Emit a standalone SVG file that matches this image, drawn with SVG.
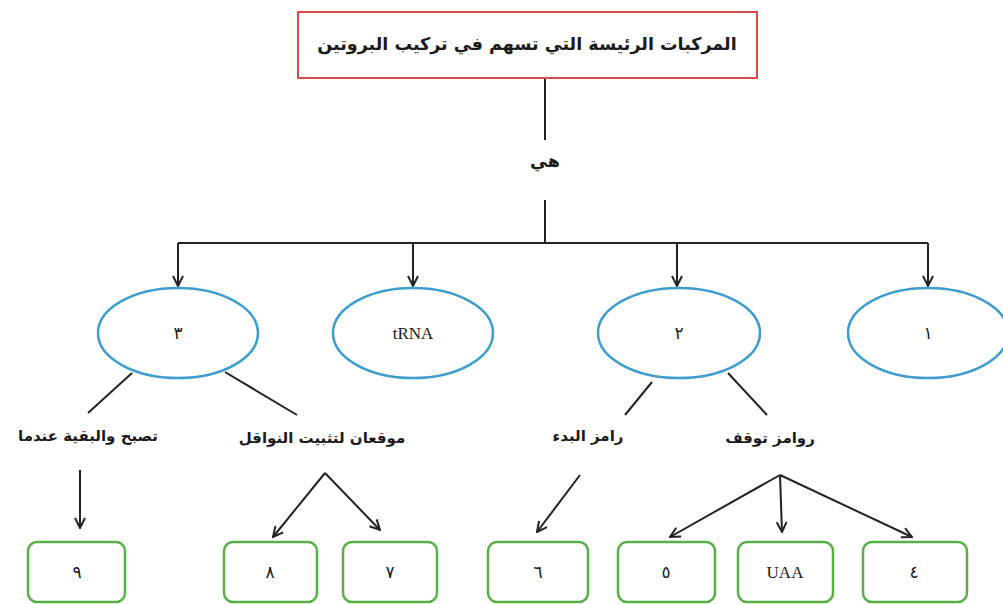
<svg xmlns="http://www.w3.org/2000/svg" width="1003" height="604" viewBox="0 0 1003 604">
  <defs>
    <marker id="arr" viewBox="0 0 12 12" refX="11" refY="6" markerWidth="12" markerHeight="12" markerUnits="userSpaceOnUse" orient="auto">
      <path d="M1,1 L11,6 L1,11" fill="none" stroke="#222" stroke-width="2" stroke-linejoin="miter"/>
    </marker>
    <style>
      .bg { fill: #ffffff; }
      .title { fill: #fff; stroke: #dc4a50; stroke-width: 2; }
      .oval { fill: #fff; stroke: #3e9dcc; stroke-width: 2.5; }
      .box { fill: #fff; stroke: #5aae48; stroke-width: 2.5; }
      .ln { fill: none; stroke: #222; stroke-width: 2; }
      .ar { fill: none; stroke: #222; stroke-width: 2; marker-end: url(#arr); }
      .ar-t { font-family: "DejaVu Sans", sans-serif; font-size: 15px; font-weight: bold; fill: #1a1a1a; text-anchor: middle; }
      .ar-big { font-size: 17.5px; }
      .num { font-family: "DejaVu Sans", sans-serif; font-size: 17px; fill: #1a1a1a; text-anchor: middle; }
      .lat { font-family: "Liberation Serif", serif; font-size: 17px; fill: #1a1a1a; text-anchor: middle; }
    </style>
  </defs>
  <rect class="bg" x="0" y="0" width="1003" height="604"/>

  <!-- connectors -->
  <g id="connectors">
    <line class="ln" x1="545" y1="79" x2="545" y2="140"/>
    <line class="ln" x1="545" y1="200" x2="545" y2="243"/>
    <line class="ln" x1="178" y1="243" x2="928" y2="243"/>
    <line class="ar" x1="178" y1="243" x2="178" y2="286"/>
    <line class="ar" x1="413" y1="243" x2="413" y2="286"/>
    <line class="ar" x1="677" y1="243" x2="677" y2="286"/>
    <line class="ar" x1="928" y1="243" x2="928" y2="286"/>

    <line class="ln" x1="132" y1="373" x2="88" y2="413"/>
    <line class="ln" x1="225" y1="372" x2="297" y2="415"/>
    <line class="ln" x1="652" y1="382" x2="625" y2="415"/>
    <line class="ln" x1="728" y1="373" x2="767" y2="415"/>

    <line class="ar" x1="80" y1="470" x2="80" y2="528"/>
    <line class="ar" x1="325" y1="473" x2="273" y2="537"/>
    <line class="ar" x1="325" y1="473" x2="380" y2="530"/>
    <line class="ar" x1="580" y1="475" x2="537" y2="532"/>
    <line class="ar" x1="780" y1="475" x2="670" y2="537"/>
    <line class="ar" x1="780" y1="475" x2="782" y2="532"/>
    <line class="ar" x1="780" y1="475" x2="912" y2="537"/>
  </g>

  <g id="title">
    <rect class="title" x="298" y="12" width="459" height="66"/>
    <text class="ar-t ar-big" x="527" y="50">المركبات الرئيسة التي تسهم في تركيب البروتين</text>
  </g>

  <g id="label-hi">
    <text class="ar-t ar-big" x="545" y="167">هي</text>
  </g>

  <g id="node-3">
    <ellipse class="oval" cx="178" cy="333" rx="80" ry="45"/>
    <text class="num" x="178" y="339">٣</text>
  </g>
  <g id="node-trna">
    <ellipse class="oval" cx="413" cy="333" rx="80" ry="45"/>
    <text class="lat" x="413" y="339">tRNA</text>
  </g>
  <g id="node-2">
    <ellipse class="oval" cx="679" cy="333" rx="81" ry="45"/>
    <text class="num" x="679" y="339">٢</text>
  </g>
  <g id="node-1">
    <ellipse class="oval" cx="928" cy="333" rx="80" ry="45"/>
    <text class="num" x="928" y="339">١</text>
  </g>

  <g id="label-becomes">
    <text class="ar-t" x="88" y="441">تصبح والبقية عندما</text>
  </g>
  <g id="label-sites">
    <text class="ar-t" x="322" y="443">موقعان لتثبيت النواقل</text>
  </g>
  <g id="label-start">
    <text class="ar-t" x="588" y="441">رامز البدء</text>
  </g>
  <g id="label-stop">
    <text class="ar-t" x="770" y="443">روامز توقف</text>
  </g>

  <g id="box-9">
    <rect class="box" x="28" y="542" width="97" height="60" rx="9"/>
    <text class="num" x="77" y="578">٩</text>
  </g>
  <g id="box-8">
    <rect class="box" x="224" y="542" width="93" height="60" rx="9"/>
    <text class="num" x="270" y="578">٨</text>
  </g>
  <g id="box-7">
    <rect class="box" x="343" y="542" width="94" height="60" rx="9"/>
    <text class="num" x="390" y="578">٧</text>
  </g>
  <g id="box-6">
    <rect class="box" x="488" y="542" width="100" height="60" rx="9"/>
    <text class="num" x="538" y="578">٦</text>
  </g>
  <g id="box-5">
    <rect class="box" x="618" y="542" width="97" height="60" rx="9"/>
    <text class="num" x="666" y="578">٥</text>
  </g>
  <g id="box-uaa">
    <rect class="box" x="738" y="542" width="95" height="60" rx="9"/>
    <text class="lat" x="785" y="578">UAA</text>
  </g>
  <g id="box-4">
    <rect class="box" x="863" y="542" width="104" height="60" rx="9"/>
    <text class="num" x="914" y="578">٤</text>
  </g>
</svg>
